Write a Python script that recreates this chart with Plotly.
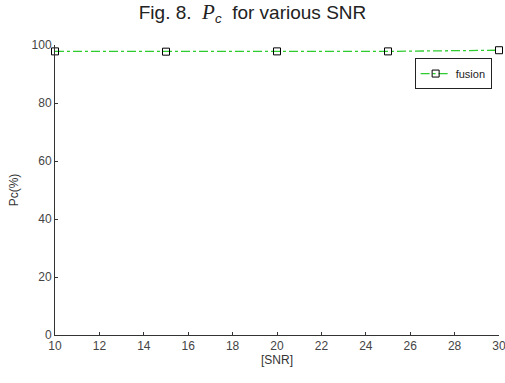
import plotly.graph_objects as go

snr = [10, 15, 20, 25, 30]
pc_fusion = [97.8, 97.7, 97.8, 97.8, 98.2]
x_ticks = [10, 12, 14, 16, 18, 20, 22, 24, 26, 28, 30]
y_ticks = [0, 20, 40, 60, 80, 100]

fig = go.Figure()
fig.add_trace(go.Scatter(
    x=snr, y=pc_fusion, name="fusion", mode="lines+markers",
    line=dict(color="#2ecc2e", width=1.3, dash="dashdot"),
    marker=dict(symbol="square-open", size=7, color="black", line=dict(width=1)),
    cliponaxis=False,
))

font = "Liberation Sans, Arial, sans-serif"
fig.update_layout(
    width=505, height=383,
    margin=dict(l=55, r=6, t=45, b=48),
    paper_bgcolor="white", plot_bgcolor="white",
    font=dict(family=font, size=12, color="#333"),
    title=dict(
        text="Fig. 8.  <i><span style='font-family:Liberation Serif,serif;font-size:21px'>P</span><sub>c</sub></i>  for various SNR",
        x=0.5, xanchor="center", y=0.985, yanchor="top",
        font=dict(size=19, color="#222", family=font),
    ),
    showlegend=True,
    legend=dict(
        x=0.81, y=0.955, xanchor="left", yanchor="top",
        bordercolor="#222", borderwidth=1, bgcolor="white",
        font=dict(size=11, color="#222"),
        itemwidth=30, tracegroupgap=0,
    ),
    xaxis=dict(
        range=[10, 30], tickvals=x_ticks, ticks="inside", ticklen=3,
        tickcolor="#333", showline=True, linecolor="#333", linewidth=1,
        showgrid=False, zeroline=False, mirror=False,
        ticklabeloverflow="allow", automargin=False,
        title=dict(text="[SNR]", standoff=2, font=dict(size=12, color="#333")),
        tickfont=dict(size=12, color="#444"),
    ),
    yaxis=dict(
        range=[0, 100], tickvals=y_ticks, ticks="inside", ticklen=3,
        tickcolor="#333", showline=True, linecolor="#333", linewidth=1,
        showgrid=False, zeroline=False, mirror=False, automargin=False,
        title=dict(text="Pc(%)", standoff=10, font=dict(size=12, color="#333")),
        tickfont=dict(size=12, color="#444"),
    ),
)

fig.write_html(
    "out.html",
    config={"displayModeBar": False},
    post_script="document.body.style.margin='0';document.body.style.overflow='hidden';",
)
